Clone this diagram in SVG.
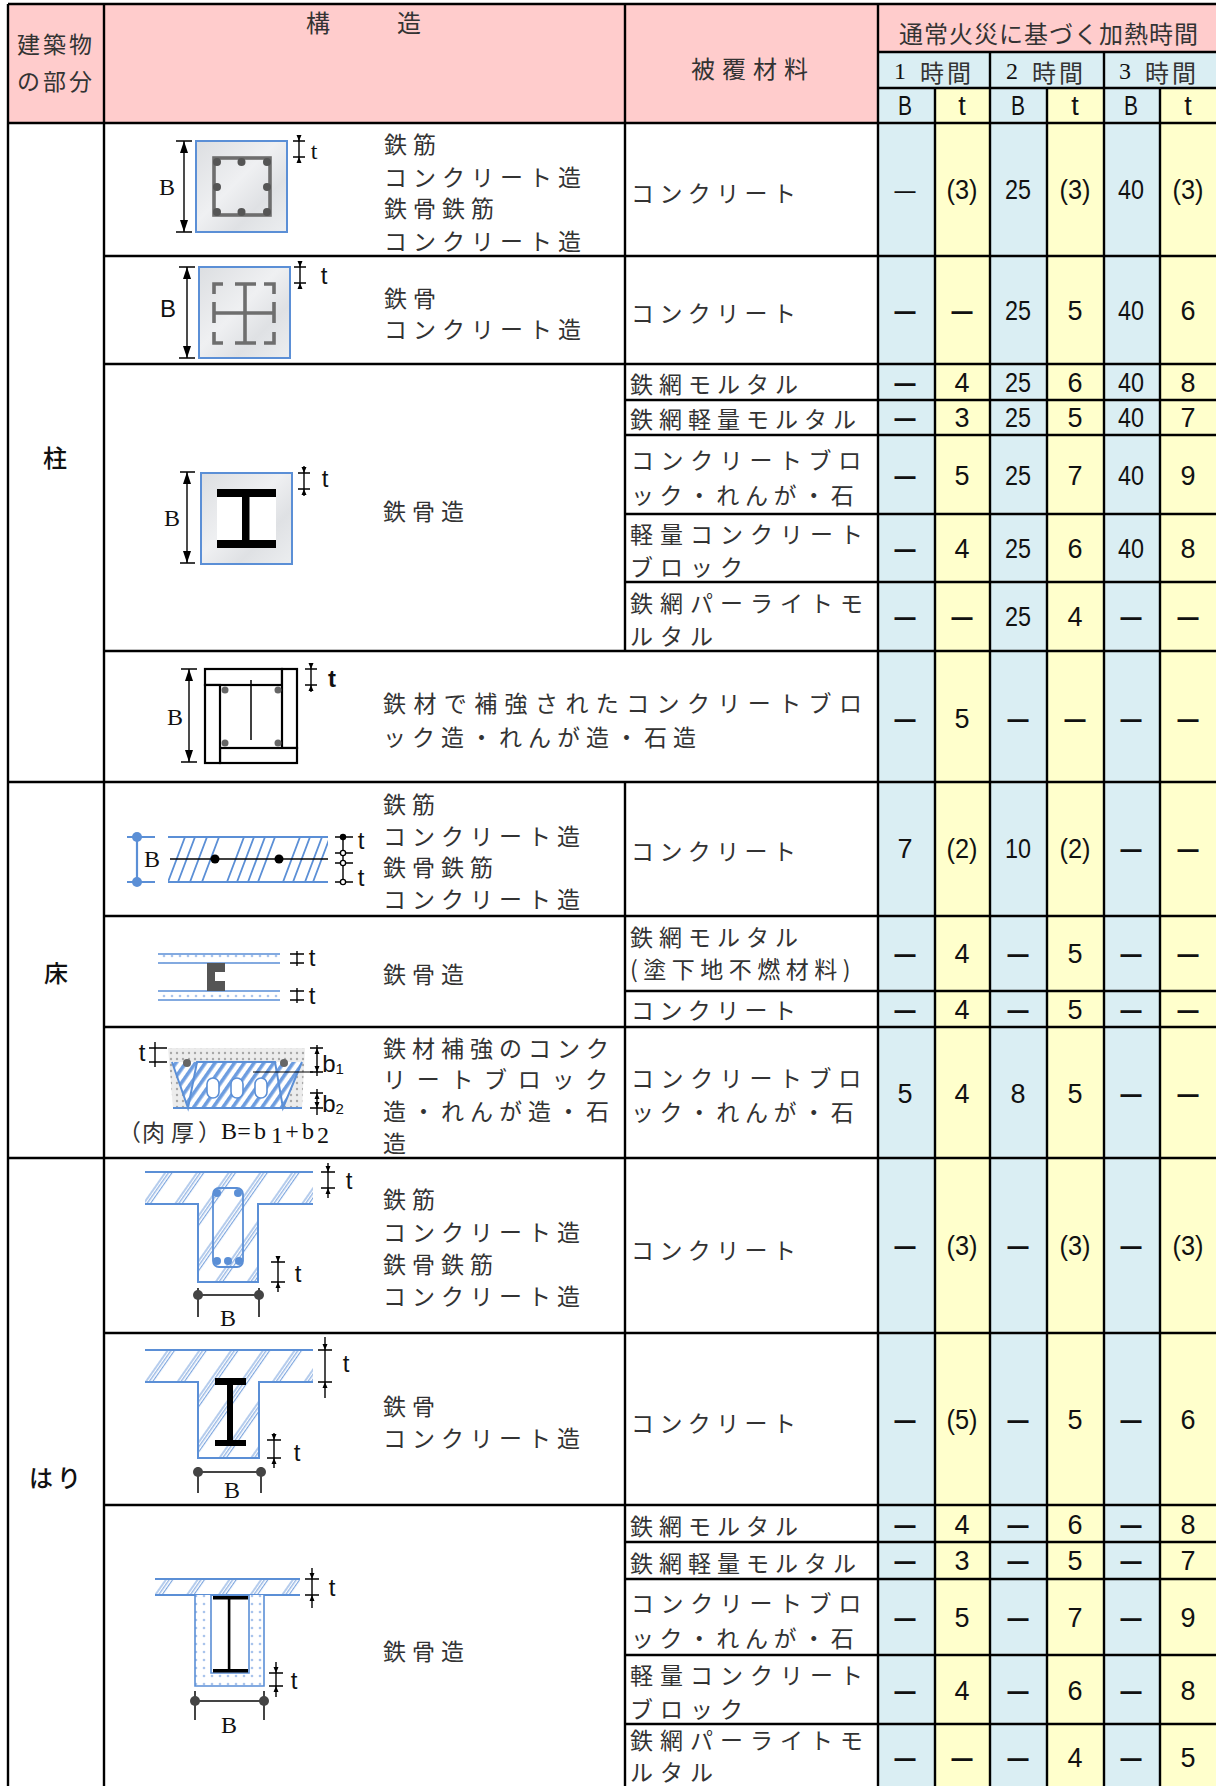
<svg xmlns="http://www.w3.org/2000/svg" width="1216" height="1786" viewBox="0 0 1216 1786">
<style>
.grid{stroke:#000;stroke-width:2.4;fill:none}
.jp{font-family:'Noto Sans CJK JP','Noto Sans CJK SC',sans-serif;font-size:23px;fill:#333;letter-spacing:6px;dominant-baseline:central}
.hd{font-size:24px}
.lbl{font-family:'Noto Sans CJK JP','Noto Sans CJK SC',sans-serif;font-size:24px;fill:#111;text-anchor:middle;dominant-baseline:central;font-weight:500}
.n{font-family:'Liberation Sans',Arial,sans-serif;font-size:27px;fill:#111;text-anchor:middle;dominant-baseline:central}
.d{font-weight:bold}
.ser{font-family:'Liberation Serif','Times New Roman',serif;font-size:24px;fill:#111;text-anchor:middle;dominant-baseline:central}
.sans{font-family:'Liberation Sans',Arial,sans-serif;font-size:24px;fill:#111;text-anchor:middle;dominant-baseline:central}
.bl{stroke:#5b8fd6;stroke-width:2;fill:none}
.dim{stroke:#000;stroke-width:1.4;fill:none}
.ah{fill:#000}
.sq{fill:url(#marble);stroke:#5b8fd6;stroke-width:2}
.cage{stroke:#6e6e6e;stroke-width:3.6;fill:none}
</style>
<defs>
<linearGradient id="marble" x1="0" y1="0" x2="1" y2="1">
<stop offset="0" stop-color="#dcdee1"/><stop offset="0.45" stop-color="#eff0f2"/><stop offset="0.7" stop-color="#dfe1e4"/><stop offset="1" stop-color="#eceef0"/>
</linearGradient>
<pattern id="hatch3" width="26" height="26" patternUnits="userSpaceOnUse" patternTransform="rotate(35)">
<path d="M2,0V26M4.8,0V26M7.6,0V26" stroke="#5b8fd6" stroke-width="0.9"/>
</pattern>
<pattern id="stripe" width="8" height="8" patternUnits="userSpaceOnUse" patternTransform="rotate(35)">
<rect width="8" height="8" fill="#ffffff"/><rect width="3.6" height="8" fill="#6d9de0"/>
</pattern>
<pattern id="greydot" width="6" height="6" patternUnits="userSpaceOnUse">
<rect width="6" height="6" fill="#ececec"/><circle cx="3" cy="3" r="1.2" fill="#a8a8a8"/>
</pattern>
<pattern id="bluedot" width="8" height="8" patternUnits="userSpaceOnUse">
<rect width="8" height="8" fill="#ffffff"/><circle cx="4" cy="4" r="1.3" fill="#a9c4ec"/>
</pattern>
<clipPath id="slabclip"><rect x="168" y="837" width="160" height="45"/></clipPath>
</defs>

<g id="backgrounds">
<rect x="8" y="4" width="1208" height="48" fill="#ffcccc"/>
<rect x="8" y="52" width="870" height="71" fill="#ffcccc"/>
<rect x="878" y="52" width="338" height="36" fill="#daeef3"/>
<rect x="878" y="88" width="57" height="1698" fill="#daeef3"/>
<rect x="935" y="88" width="55" height="1698" fill="#ffffcc"/>
<rect x="990" y="88" width="57" height="1698" fill="#daeef3"/>
<rect x="1047" y="88" width="57" height="1698" fill="#ffffcc"/>
<rect x="1104" y="88" width="56" height="1698" fill="#daeef3"/>
<rect x="1160" y="88" width="56" height="1698" fill="#ffffcc"/>
</g>

<g id="header">
<text class="jp" x="17" y="43" style="letter-spacing:3px" font-size="22">建築物</text>
<text class="jp" x="17" y="80" style="letter-spacing:3px" font-size="22">の部分</text>
<text class="jp hd" x="306" y="21">構</text>
<text class="jp hd" x="397" y="21">造</text>
<text class="jp hd" x="691" y="67" style="letter-spacing:7px">被覆材料</text>
<text class="jp hd" x="899" y="32" style="letter-spacing:1px">通常火災に基づく加熱時間</text>
<text class="ser" x="900" y="71">1</text><text class="jp hd" x="920" y="71" style="letter-spacing:3px">時間</text>
<text class="ser" x="1012" y="71">2</text><text class="jp hd" x="1032" y="71" style="letter-spacing:3px">時間</text>
<text class="ser" x="1125" y="71">3</text><text class="jp hd" x="1145" y="71" style="letter-spacing:3px">時間</text>
<text class="n" x="905" y="106" textLength="14" lengthAdjust="spacingAndGlyphs">B</text>
<text class="n" x="962" y="106">t</text>
<text class="n" x="1018" y="106" textLength="14" lengthAdjust="spacingAndGlyphs">B</text>
<text class="n" x="1075" y="106">t</text>
<text class="n" x="1131" y="106" textLength="14" lengthAdjust="spacingAndGlyphs">B</text>
<text class="n" x="1188" y="106">t</text>
</g>

<g id="part-labels">
<text class="lbl" x="55" y="456">柱</text>
<text class="lbl" x="56" y="971">床</text>
<text class="lbl" x="57" y="1476" style="letter-spacing:4px">はり</text>
</g>

<g id="fig-col-rc">
<rect class="sq" x="196" y="141" width="91" height="91"/>
<rect class="cage" x="214" y="158" width="56" height="57"/>
<g fill="#555"><circle cx="217" cy="162" r="4"/><circle cx="241.5" cy="162" r="4"/><circle cx="267" cy="162" r="4"/><circle cx="217" cy="187" r="4"/><circle cx="267" cy="187" r="4"/><circle cx="217" cy="212" r="4"/><circle cx="241.5" cy="212" r="4"/><circle cx="267" cy="212" r="4"/></g>
<path class="dim" d="M184,141V232M176,141H192M176,232H192"/>
<polygon class="ah" points="184,141 180,153 188,153"/><polygon class="ah" points="184,232 180,220 188,220"/>
<text class="ser" x="167" y="187" font-size="27">B</text>
<path class="dim" d="M299,135V163M293,141H305M293,157H305"/>
<polygon class="ah" points="299,141 296.5,135 301.5,135"/><polygon class="ah" points="299,157 296.5,163 301.5,163"/>
<text class="ser" x="314" y="151" font-size="21">t</text>
</g>

<g id="fig-col-src">
<rect class="sq" x="199" y="267" width="91" height="91"/>
<path class="cage" d="M223,284H214V294M264,284H274V294M214,332V343H223M274,332V343H264M235,284H256M235,343H256M214,302V323M274,302V323M245,284V343M214,313H274"/>
<path class="dim" d="M187,267V358M179,267H195M179,358H195"/>
<polygon class="ah" points="187,267 183,279 191,279"/><polygon class="ah" points="187,358 183,346 191,346"/>
<text class="sans" x="168" y="308" font-size="26">B</text>
<path class="dim" d="M300,262V288M294,267H306M294,283H306"/>
<polygon class="ah" points="300,267 297.5,261 302.5,261"/><polygon class="ah" points="300,283 297.5,289 302.5,289"/>
<text class="sans" x="324" y="275" font-size="27">t</text>
</g>

<g id="fig-col-s">
<rect class="sq" x="201" y="473" width="91" height="91"/>
<rect x="217" y="489" width="59" height="59" fill="#ffffff"/>
<rect x="217" y="489" width="59" height="8" fill="#000"/>
<rect x="217" y="540" width="59" height="8" fill="#000"/>
<rect x="242" y="497" width="7.5" height="43" fill="#000"/>
<path class="dim" d="M187,472V563M180,472H195M180,563H195"/>
<polygon class="ah" points="187,472 183,484 191,484"/><polygon class="ah" points="187,563 183,551 191,551"/>
<text class="ser" x="172" y="518" font-size="26">B</text>
<path class="dim" d="M304,466V496M298,473H310M298,489H310"/>
<polygon class="ah" points="304,473 301.5,467 306.5,467"/><polygon class="ah" points="304,489 301.5,495 306.5,495"/>
<text class="sans" x="325" y="478" font-size="26">t</text>
</g>

<g id="fig-col-block">
<g fill="#fff" stroke="#000" stroke-width="2.2">
<rect x="205" y="669" width="77" height="16"/>
<rect x="282" y="669" width="15" height="79"/>
<rect x="220" y="748" width="77" height="15"/>
<rect x="205" y="685" width="15" height="78"/>
</g>
<path d="M251,680V740" stroke="#000" stroke-width="1.5"/>
<g fill="#666"><circle cx="225" cy="690" r="3.5"/><circle cx="278" cy="690" r="3.5"/><circle cx="225" cy="743" r="3.5"/><circle cx="278" cy="743" r="3.5"/></g>
<path class="dim" d="M189,669V762M181,669H197M181,762H197"/>
<polygon class="ah" points="189,669 185,681 193,681"/><polygon class="ah" points="189,762 185,750 193,750"/>
<text class="ser" x="175" y="717" font-size="26">B</text>
<path class="dim" d="M311,663V692M305,669H317M305,685H317"/>
<polygon class="ah" points="311,669 308.5,663 313.5,663"/><polygon class="ah" points="311,685 308.5,691 313.5,691"/>
<text class="sans" x="332" y="678" font-weight="bold" font-size="25">t</text>
</g>

<g id="fig-floor-rc">
<path d="M137,837V882M127,837H155M127,882H155" stroke="#5b8fd6" stroke-width="2.2" fill="none"/>
<circle cx="137" cy="837" r="5" fill="#5b8fd6"/><circle cx="137" cy="882" r="5" fill="#5b8fd6"/>
<text class="ser" x="152" y="859" font-size="27">B</text>
<g clip-path="url(#slabclip)" stroke="#5b8fd6" stroke-width="1.8">
<path d="M168,882L185,837M178,882L195,837M190,882L207,837M202,882L219,837M227,882L244,837M237,882L254,837M248,882L265,837M258,882L275,837M283,882L300,837M293,882L310,837M305,882L322,837M313,882L330,837"/>
</g>
<path class="bl" d="M168,837H328M168,882H328"/>
<path d="M170,859H328" stroke="#000" stroke-width="1.6"/>
<circle cx="215" cy="859" r="4.5" fill="#000"/><circle cx="279" cy="859" r="4.5" fill="#000"/>
<path class="dim" d="M343,837V882M335,837H353M335,853H353M335,863H353M335,882H353"/>
<circle cx="343" cy="837" r="3.2" fill="#000"/>
<circle cx="343" cy="853" r="2.6" fill="#fff" stroke="#000" stroke-width="1.3"/>
<circle cx="343" cy="863" r="2.6" fill="#fff" stroke="#000" stroke-width="1.3"/>
<circle cx="343" cy="882" r="2.6" fill="#fff" stroke="#000" stroke-width="1.3"/>
<text class="sans" x="361" y="840" font-size="21">t</text>
<text class="sans" x="361" y="877" font-size="21">t</text>
</g>

<g id="fig-floor-s">
<rect x="158" y="954" width="122" height="9" fill="url(#bluedot)"/>
<rect x="158" y="991" width="122" height="9" fill="url(#bluedot)"/>
<path d="M158,954H280M158,963H280M158,991H280M158,1000H280" stroke="#5b8fd6" stroke-width="1.6"/>
<polygon points="207,963 225,963 225,972 215,972 215,981 225,981 225,991 207,991" fill="#555"/>
<path class="dim" d="M297,951V966M290,954H304M290,963H304M297,988V1003M290,991H304M290,1000H304" stroke-width="1.2"/>
<text class="sans" x="312" y="957" font-size="18">t</text>
<text class="sans" x="312" y="995" font-size="18">t</text>
</g>

<g id="fig-floor-block">
<polygon points="168,1048 305,1048 302,1108 173,1108" fill="url(#greydot)"/>
<polygon points="172,1062 302,1062 283,1108 188,1108" fill="url(#stripe)"/>
<path class="bl" d="M172,1062L188,1108L197,1062H275L283,1108L302,1062M173,1108H302"/>
<g fill="#fff" stroke="#5b8fd6" stroke-width="1.6">
<rect x="207" y="1078" width="12" height="20" rx="6"/>
<rect x="231" y="1078" width="12" height="20" rx="6"/>
<rect x="255" y="1078" width="12" height="20" rx="6"/>
</g>
<circle cx="187" cy="1063" r="4" fill="#666"/><circle cx="284" cy="1063" r="4" fill="#666"/>
<path d="M253,1072H313" stroke="#000" stroke-width="1.2"/>
<path class="dim" d="M155,1042V1067M149,1048H167M149,1062H167"/>
<text class="sans" x="142" y="1052" font-size="25">t</text>
<path class="dim" d="M317,1045V1076M310,1048H323M310,1072H323M317,1089V1115M310,1093H323M310,1108H323"/>
<polygon class="ah" points="317,1048 314.5,1054 319.5,1054"/><polygon class="ah" points="317,1072 314.5,1066 319.5,1066"/>
<polygon class="ah" points="317,1093 314.5,1099 319.5,1099"/><polygon class="ah" points="317,1108 314.5,1102 319.5,1102"/>
<text class="sans" x="333" y="1063" font-size="25">b<tspan font-size="15" dy="5">1</tspan></text>
<text class="sans" x="333" y="1103" font-size="25">b<tspan font-size="15" dy="5">2</tspan></text>
<text class="jp" x="118 142 162 171 198" y="1131" font-size="20" style="letter-spacing:0px">（肉 厚）</text>
<text class="ser" x="229" y="1131" font-size="22">B</text>
<text class="ser" x="244" y="1131" font-size="20">=</text>
<text class="ser" x="260" y="1131" font-size="22">b</text>
<text class="ser" x="277" y="1135" font-size="15">1</text>
<text class="ser" x="292" y="1131" font-size="20">+</text>
<text class="ser" x="308" y="1131" font-size="22">b</text>
<text class="ser" x="323" y="1135" font-size="15">2</text>
</g>

<g id="fig-beam-rc">
<path d="M145,1172H313V1204H258V1282H198V1204H145Z" fill="url(#hatch3)"/>
<path class="bl" d="M145,1172H313M145,1204H198V1282H258V1204H313"/>
<rect x="213" y="1188" width="30" height="79" rx="6" fill="none" stroke="#5b8fd6" stroke-width="1.8"/>
<g fill="#5b8fd6"><circle cx="217" cy="1193" r="4"/><circle cx="238" cy="1193" r="4"/><circle cx="217" cy="1261" r="4"/><circle cx="228" cy="1261" r="4"/><circle cx="239" cy="1261" r="4"/></g>
<path class="dim" d="M328,1163V1198M321,1172H335M321,1188H335"/>
<polygon class="ah" points="328,1172 325.5,1166 330.5,1166"/><polygon class="ah" points="328,1188 325.5,1194 330.5,1194"/>
<text class="sans" x="349" y="1180" font-size="26">t</text>
<path class="dim" d="M278,1257V1292M271,1262H285M271,1282H285"/>
<polygon class="ah" points="278,1262 275.5,1256 280.5,1256"/><polygon class="ah" points="278,1282 275.5,1288 280.5,1288"/>
<text class="sans" x="298" y="1273" font-size="26">t</text>
<path d="M198,1288V1317M259,1288V1317M198,1295H259" stroke="#444" stroke-width="2"/>
<circle cx="198" cy="1295" r="5" fill="#444"/><circle cx="259" cy="1295" r="5" fill="#444"/>
<text class="ser" x="228" y="1318" font-size="26">B</text>
</g>

<g id="fig-beam-src">
<path d="M145,1350H313V1382H259V1458H198V1382H145Z" fill="url(#hatch3)"/>
<path class="bl" d="M145,1350H313M145,1382H198V1458H259V1382H313"/>
<rect x="215" y="1378" width="31" height="7" fill="#000"/>
<rect x="215" y="1440" width="31" height="6" fill="#000"/>
<rect x="227" y="1385" width="6" height="55" fill="#000"/>
<path class="dim" d="M325,1337V1398M318,1350H332M318,1382H332"/>
<polygon class="ah" points="325,1350 322.5,1344 327.5,1344"/><polygon class="ah" points="325,1382 322.5,1388 327.5,1388"/>
<text class="sans" x="346" y="1363" font-size="26">t</text>
<path class="dim" d="M274,1433V1468M267,1440H281M267,1458H281"/>
<polygon class="ah" points="274,1440 271.5,1434 276.5,1434"/><polygon class="ah" points="274,1458 271.5,1464 276.5,1464"/>
<text class="sans" x="297" y="1452" font-size="26">t</text>
<path d="M198,1467V1493M261,1467V1493M198,1472H261" stroke="#444" stroke-width="2"/>
<circle cx="198" cy="1472" r="5" fill="#444"/><circle cx="261" cy="1472" r="5" fill="#444"/>
<text class="ser" x="232" y="1490" font-size="26">B</text>
</g>

<g id="fig-beam-s">
<rect x="155" y="1579" width="145" height="16" fill="url(#hatch3)"/>
<path class="bl" d="M155,1579H300M155,1595H300"/>
<path d="M195,1595H264V1686H195ZM211,1595V1673H249V1595Z" fill="url(#bluedot)" fill-rule="evenodd"/>
<path d="M195,1595V1686H264V1595M211,1595V1673H249V1595" stroke="#5b8fd6" stroke-width="1.6" fill="none"/>
<rect x="213" y="1596" width="35" height="3.5" fill="#000"/>
<rect x="213" y="1669" width="35" height="3.5" fill="#000"/>
<rect x="227.8" y="1599" width="2.6" height="70" fill="#000"/>
<path class="dim" d="M312,1568V1608M305,1579H319M305,1595H319"/>
<polygon class="ah" points="312,1579 309.5,1573 314.5,1573"/><polygon class="ah" points="312,1595 309.5,1601 314.5,1601"/>
<text class="sans" x="332" y="1587" font-size="26">t</text>
<path class="dim" d="M276,1662V1697M269,1673H283M269,1686H283"/>
<polygon class="ah" points="276,1673 273.5,1667 278.5,1667"/><polygon class="ah" points="276,1686 273.5,1692 278.5,1692"/>
<text class="sans" x="294" y="1680" font-size="26">t</text>
<path d="M195,1691V1720M264,1691V1720M195,1701H264" stroke="#444" stroke-width="2"/>
<circle cx="195" cy="1701" r="5" fill="#444"/><circle cx="264" cy="1701" r="5" fill="#444"/>
<text class="ser" x="229" y="1725" font-size="26">B</text>
</g>

<g id="structure-texts">
<text class="jp" x="384" y="143">鉄筋</text>
<text class="jp" x="384" y="176">コンクリート造</text>
<text class="jp" x="384" y="207">鉄骨鉄筋</text>
<text class="jp" x="384" y="240">コンクリート造</text>
<text class="jp" x="384" y="297">鉄骨</text>
<text class="jp" x="384" y="328">コンクリート造</text>
<text class="jp" x="383" y="510">鉄骨造</text>
<text class="jp" x="383" y="702" style="letter-spacing:7.4px">鉄材で補強されたコンクリートブロ</text>
<text class="jp" x="383" y="736" style="letter-spacing:6px">ック造・れんが造・石造</text>
<text class="jp" x="383" y="803">鉄筋</text>
<text class="jp" x="383" y="835">コンクリート造</text>
<text class="jp" x="383" y="866">鉄骨鉄筋</text>
<text class="jp" x="383" y="898">コンクリート造</text>
<text class="jp" x="383" y="973">鉄骨造</text>
<text class="jp" x="383" y="1047">鉄材補強のコンク</text>
<text class="jp" x="383" y="1078" style="letter-spacing:10.7px">リートブロック</text>
<text class="jp" x="383" y="1110">造・れんが造・石</text>
<text class="jp" x="383" y="1142">造</text>
<text class="jp" x="383" y="1198">鉄筋</text>
<text class="jp" x="383" y="1231">コンクリート造</text>
<text class="jp" x="383" y="1263">鉄骨鉄筋</text>
<text class="jp" x="383" y="1295">コンクリート造</text>
<text class="jp" x="383" y="1405">鉄骨</text>
<text class="jp" x="383" y="1437">コンクリート造</text>
<text class="jp" x="383" y="1650">鉄骨造</text>
</g>

<g id="covering-texts">
<text class="jp" x="631" y="192" style="letter-spacing:5.4px">コンクリート</text>
<text class="jp" x="631" y="312" style="letter-spacing:5.4px">コンクリート</text>
<text class="jp" x="630" y="383">鉄網モルタル</text>
<text class="jp" x="630" y="418">鉄網軽量モルタル</text>
<text class="jp" x="631" y="459" style="letter-spacing:6.6px">コンクリートブロ</text>
<text class="jp" x="631" y="494" style="letter-spacing:5.6px">ック・れんが・石</text>
<text class="jp" x="630" y="533" style="letter-spacing:7px">軽量コンクリート</text>
<text class="jp" x="630" y="566" style="letter-spacing:7px">ブロック</text>
<text class="jp" x="630" y="602" style="letter-spacing:7px">鉄網パーライトモ</text>
<text class="jp" x="630" y="635" style="letter-spacing:7px">ルタル</text>
<text class="jp" x="631" y="850" style="letter-spacing:5.4px">コンクリート</text>
<text class="jp" x="630" y="936">鉄網モルタル</text>
<text class="jp" x="630" y="968" style="letter-spacing:5.5px">(塗下地不燃材料)</text>
<text class="jp" x="631" y="1009" style="letter-spacing:5.4px">コンクリート</text>
<text class="jp" x="631" y="1077" style="letter-spacing:6.6px">コンクリートブロ</text>
<text class="jp" x="631" y="1111" style="letter-spacing:5.6px">ック・れんが・石</text>
<text class="jp" x="631" y="1249" style="letter-spacing:5.4px">コンクリート</text>
<text class="jp" x="631" y="1422" style="letter-spacing:5.4px">コンクリート</text>
<text class="jp" x="630" y="1525">鉄網モルタル</text>
<text class="jp" x="630" y="1562">鉄網軽量モルタル</text>
<text class="jp" x="631" y="1602" style="letter-spacing:6.6px">コンクリートブロ</text>
<text class="jp" x="631" y="1637" style="letter-spacing:5.6px">ック・れんが・石</text>
<text class="jp" x="630" y="1674" style="letter-spacing:7px">軽量コンクリート</text>
<text class="jp" x="630" y="1708" style="letter-spacing:7px">ブロック</text>
<text class="jp" x="630" y="1739" style="letter-spacing:7px">鉄網パーライトモ</text>
<text class="jp" x="630" y="1771" style="letter-spacing:7px">ルタル</text>
</g>

<g id="values">
<text class="n" x="905" y="190" textLength="21" lengthAdjust="spacingAndGlyphs">—</text>
<text class="n" x="962" y="190" textLength="31" lengthAdjust="spacingAndGlyphs">(3)</text>
<text class="n" x="1018" y="190" textLength="26" lengthAdjust="spacingAndGlyphs">25</text>
<text class="n" x="1075" y="190" textLength="31" lengthAdjust="spacingAndGlyphs">(3)</text>
<text class="n" x="1131" y="190" textLength="26" lengthAdjust="spacingAndGlyphs">40</text>
<text class="n" x="1188" y="190" textLength="31" lengthAdjust="spacingAndGlyphs">(3)</text>
<text class="n d" x="905" y="311" textLength="21" lengthAdjust="spacingAndGlyphs">—</text>
<text class="n d" x="962" y="311" textLength="21" lengthAdjust="spacingAndGlyphs">—</text>
<text class="n" x="1018" y="311" textLength="26" lengthAdjust="spacingAndGlyphs">25</text>
<text class="n" x="1075" y="311">5</text>
<text class="n" x="1131" y="311" textLength="26" lengthAdjust="spacingAndGlyphs">40</text>
<text class="n" x="1188" y="311">6</text>
<text class="n d" x="905" y="383" textLength="21" lengthAdjust="spacingAndGlyphs">—</text>
<text class="n" x="962" y="383">4</text>
<text class="n" x="1018" y="383" textLength="26" lengthAdjust="spacingAndGlyphs">25</text>
<text class="n" x="1075" y="383">6</text>
<text class="n" x="1131" y="383" textLength="26" lengthAdjust="spacingAndGlyphs">40</text>
<text class="n" x="1188" y="383">8</text>
<text class="n d" x="905" y="418" textLength="21" lengthAdjust="spacingAndGlyphs">—</text>
<text class="n" x="962" y="418">3</text>
<text class="n" x="1018" y="418" textLength="26" lengthAdjust="spacingAndGlyphs">25</text>
<text class="n" x="1075" y="418">5</text>
<text class="n" x="1131" y="418" textLength="26" lengthAdjust="spacingAndGlyphs">40</text>
<text class="n" x="1188" y="418">7</text>
<text class="n d" x="905" y="476" textLength="21" lengthAdjust="spacingAndGlyphs">—</text>
<text class="n" x="962" y="476">5</text>
<text class="n" x="1018" y="476" textLength="26" lengthAdjust="spacingAndGlyphs">25</text>
<text class="n" x="1075" y="476">7</text>
<text class="n" x="1131" y="476" textLength="26" lengthAdjust="spacingAndGlyphs">40</text>
<text class="n" x="1188" y="476">9</text>
<text class="n d" x="905" y="549" textLength="21" lengthAdjust="spacingAndGlyphs">—</text>
<text class="n" x="962" y="549">4</text>
<text class="n" x="1018" y="549" textLength="26" lengthAdjust="spacingAndGlyphs">25</text>
<text class="n" x="1075" y="549">6</text>
<text class="n" x="1131" y="549" textLength="26" lengthAdjust="spacingAndGlyphs">40</text>
<text class="n" x="1188" y="549">8</text>
<text class="n d" x="905" y="617" textLength="21" lengthAdjust="spacingAndGlyphs">—</text>
<text class="n d" x="962" y="617" textLength="21" lengthAdjust="spacingAndGlyphs">—</text>
<text class="n" x="1018" y="617" textLength="26" lengthAdjust="spacingAndGlyphs">25</text>
<text class="n" x="1075" y="617">4</text>
<text class="n d" x="1131" y="617" textLength="21" lengthAdjust="spacingAndGlyphs">—</text>
<text class="n d" x="1188" y="617" textLength="21" lengthAdjust="spacingAndGlyphs">—</text>
<text class="n d" x="905" y="719" textLength="21" lengthAdjust="spacingAndGlyphs">—</text>
<text class="n" x="962" y="719">5</text>
<text class="n d" x="1018" y="719" textLength="21" lengthAdjust="spacingAndGlyphs">—</text>
<text class="n d" x="1075" y="719" textLength="21" lengthAdjust="spacingAndGlyphs">—</text>
<text class="n d" x="1131" y="719" textLength="21" lengthAdjust="spacingAndGlyphs">—</text>
<text class="n d" x="1188" y="719" textLength="21" lengthAdjust="spacingAndGlyphs">—</text>
<text class="n" x="905" y="849">7</text>
<text class="n" x="962" y="849" textLength="31" lengthAdjust="spacingAndGlyphs">(2)</text>
<text class="n" x="1018" y="849" textLength="26" lengthAdjust="spacingAndGlyphs">10</text>
<text class="n" x="1075" y="849" textLength="31" lengthAdjust="spacingAndGlyphs">(2)</text>
<text class="n d" x="1131" y="849" textLength="21" lengthAdjust="spacingAndGlyphs">—</text>
<text class="n d" x="1188" y="849" textLength="21" lengthAdjust="spacingAndGlyphs">—</text>
<text class="n d" x="905" y="954" textLength="21" lengthAdjust="spacingAndGlyphs">—</text>
<text class="n" x="962" y="954">4</text>
<text class="n d" x="1018" y="954" textLength="21" lengthAdjust="spacingAndGlyphs">—</text>
<text class="n" x="1075" y="954">5</text>
<text class="n d" x="1131" y="954" textLength="21" lengthAdjust="spacingAndGlyphs">—</text>
<text class="n d" x="1188" y="954" textLength="21" lengthAdjust="spacingAndGlyphs">—</text>
<text class="n d" x="905" y="1010" textLength="21" lengthAdjust="spacingAndGlyphs">—</text>
<text class="n" x="962" y="1010">4</text>
<text class="n d" x="1018" y="1010" textLength="21" lengthAdjust="spacingAndGlyphs">—</text>
<text class="n" x="1075" y="1010">5</text>
<text class="n d" x="1131" y="1010" textLength="21" lengthAdjust="spacingAndGlyphs">—</text>
<text class="n d" x="1188" y="1010" textLength="21" lengthAdjust="spacingAndGlyphs">—</text>
<text class="n" x="905" y="1094">5</text>
<text class="n" x="962" y="1094">4</text>
<text class="n" x="1018" y="1094">8</text>
<text class="n" x="1075" y="1094">5</text>
<text class="n d" x="1131" y="1094" textLength="21" lengthAdjust="spacingAndGlyphs">—</text>
<text class="n d" x="1188" y="1094" textLength="21" lengthAdjust="spacingAndGlyphs">—</text>
<text class="n d" x="905" y="1246" textLength="21" lengthAdjust="spacingAndGlyphs">—</text>
<text class="n" x="962" y="1246" textLength="31" lengthAdjust="spacingAndGlyphs">(3)</text>
<text class="n d" x="1018" y="1246" textLength="21" lengthAdjust="spacingAndGlyphs">—</text>
<text class="n" x="1075" y="1246" textLength="31" lengthAdjust="spacingAndGlyphs">(3)</text>
<text class="n d" x="1131" y="1246" textLength="21" lengthAdjust="spacingAndGlyphs">—</text>
<text class="n" x="1188" y="1246" textLength="31" lengthAdjust="spacingAndGlyphs">(3)</text>
<text class="n d" x="905" y="1420" textLength="21" lengthAdjust="spacingAndGlyphs">—</text>
<text class="n" x="962" y="1420" textLength="31" lengthAdjust="spacingAndGlyphs">(5)</text>
<text class="n d" x="1018" y="1420" textLength="21" lengthAdjust="spacingAndGlyphs">—</text>
<text class="n" x="1075" y="1420">5</text>
<text class="n d" x="1131" y="1420" textLength="21" lengthAdjust="spacingAndGlyphs">—</text>
<text class="n" x="1188" y="1420">6</text>
<text class="n d" x="905" y="1525" textLength="21" lengthAdjust="spacingAndGlyphs">—</text>
<text class="n" x="962" y="1525">4</text>
<text class="n d" x="1018" y="1525" textLength="21" lengthAdjust="spacingAndGlyphs">—</text>
<text class="n" x="1075" y="1525">6</text>
<text class="n d" x="1131" y="1525" textLength="21" lengthAdjust="spacingAndGlyphs">—</text>
<text class="n" x="1188" y="1525">8</text>
<text class="n d" x="905" y="1561" textLength="21" lengthAdjust="spacingAndGlyphs">—</text>
<text class="n" x="962" y="1561">3</text>
<text class="n d" x="1018" y="1561" textLength="21" lengthAdjust="spacingAndGlyphs">—</text>
<text class="n" x="1075" y="1561">5</text>
<text class="n d" x="1131" y="1561" textLength="21" lengthAdjust="spacingAndGlyphs">—</text>
<text class="n" x="1188" y="1561">7</text>
<text class="n d" x="905" y="1618" textLength="21" lengthAdjust="spacingAndGlyphs">—</text>
<text class="n" x="962" y="1618">5</text>
<text class="n d" x="1018" y="1618" textLength="21" lengthAdjust="spacingAndGlyphs">—</text>
<text class="n" x="1075" y="1618">7</text>
<text class="n d" x="1131" y="1618" textLength="21" lengthAdjust="spacingAndGlyphs">—</text>
<text class="n" x="1188" y="1618">9</text>
<text class="n d" x="905" y="1691" textLength="21" lengthAdjust="spacingAndGlyphs">—</text>
<text class="n" x="962" y="1691">4</text>
<text class="n d" x="1018" y="1691" textLength="21" lengthAdjust="spacingAndGlyphs">—</text>
<text class="n" x="1075" y="1691">6</text>
<text class="n d" x="1131" y="1691" textLength="21" lengthAdjust="spacingAndGlyphs">—</text>
<text class="n" x="1188" y="1691">8</text>
<text class="n d" x="905" y="1758" textLength="21" lengthAdjust="spacingAndGlyphs">—</text>
<text class="n d" x="962" y="1758" textLength="21" lengthAdjust="spacingAndGlyphs">—</text>
<text class="n d" x="1018" y="1758" textLength="21" lengthAdjust="spacingAndGlyphs">—</text>
<text class="n" x="1075" y="1758">4</text>
<text class="n d" x="1131" y="1758" textLength="21" lengthAdjust="spacingAndGlyphs">—</text>
<text class="n" x="1188" y="1758">5</text>
</g>

<g id="grid">
<path class="grid" d="M8,4H1216M878,52H1216M878,88H1216M8,123H1216"/>
<path class="grid" d="M104,256H1216M104,364H1216M625,400H1216M625,435H1216M625,514H1216M625,582H1216M104,651H1216M8,782H1216"/>
<path class="grid" d="M104,916H1216M625,991H1216M104,1027H1216M8,1158H1216"/>
<path class="grid" d="M104,1333H1216M104,1505H1216M625,1542H1216M625,1579H1216M625,1655H1216M625,1724H1216"/>
<path class="grid" d="M8,4V1786M104,4V1786M625,4V651M625,782V1786M878,4V1786M990,52V1786M1104,52V1786M935,88V1786M1047,88V1786M1160,88V1786"/>
</g>
</svg>
